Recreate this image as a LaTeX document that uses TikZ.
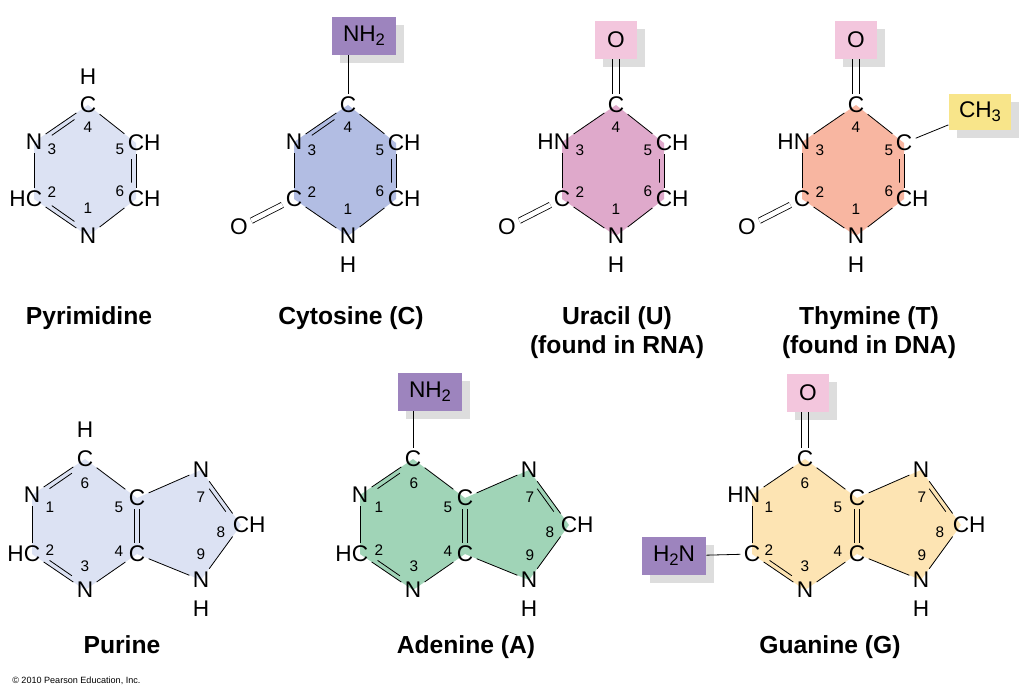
\documentclass[tikz,border=0pt]{standalone}
\usepackage{fontspec}
\setmainfont{Liberation Sans}
\usetikzlibrary{calc,shadows}

\definecolor{pyfill}{HTML}{DCE2F3}
\definecolor{cyfill}{HTML}{B2BDE3}
\definecolor{urfill}{HTML}{DFA9CB}
\definecolor{thfill}{HTML}{F8B6A1}
\definecolor{adfill}{HTML}{A0D4B7}
\definecolor{gufill}{HTML}{FDE4B3}
\definecolor{nhcol}{HTML}{9D84BE}
\definecolor{ocol}{HTML}{F3C6DD}
\definecolor{mecol}{HTML}{F8E58A}
\definecolor{shadowgray}{HTML}{DDDDDD}

\newcommand\afont{\fontsize{17}{20}\selectfont}
\newcommand\nfont{\fontsize{11.5}{13}\selectfont}
\newcommand\tfont{\fontsize{18.5}{22}\selectfont\bfseries}
\newcommand\cfont{\fontsize{6.8}{8}\selectfont}
\newcommand\lowsub[1]{\raisebox{-3pt}{\fontsize{12.5}{13}\selectfont #1}}

% ring double bond: full line plus shorter inner line toward the ring centre
\newcommand\rdb[3]{%
  \draw[bond] (#1) -- (#2);
  \draw[bond] ($(#1)!0.27!(#2)!3.5pt!(#3)$) -- ($(#2)!0.27!(#1)!3.5pt!(#3)$);}

\newcommand\topring[1]{%
  \coordinate (#1T) at (0,-65);
  \coordinate (#1UL) at (-54,-28);
  \coordinate (#1LL) at (-54,29);
  \coordinate (#1B) at (0,66);
  \coordinate (#1LR) at (48,29);
  \coordinate (#1UR) at (48,-27);
  \coordinate (#1ctr) at (-2,0);}

\newcommand\botring[1]{%
  \coordinate (#1T) at (0,-66);
  \coordinate (#1UL) at (-53,-30);
  \coordinate (#1LL) at (-53,29);
  \coordinate (#1B) at (0,65);
  \coordinate (#1LR) at (52,29);
  \coordinate (#1UR) at (52,-27);
  \coordinate (#1N7) at (116,-55);
  \coordinate (#1C8) at (156,0);
  \coordinate (#1N9) at (116,55);
  \coordinate (#1ctr) at (0,0);
  \coordinate (#1fctr) at (100,0);}

\tikzset{
  atom/.style={font=\afont, inner sep=2.6pt, outer sep=0pt},
  hyd/.style={font=\afont, inner sep=0pt, outer sep=0pt},
  hr/.style={hyd, anchor=base west, xshift=-2.6pt},
  hl/.style={hyd, anchor=base east, xshift=2.6pt},
  num/.style={font=\nfont, inner sep=0pt},
  title/.style={font=\tfont, inner sep=0pt, anchor=base},
  bond/.style={line width=0.6pt, black},
  grp/.style={font=\afont, inner sep=0pt, minimum height=28pt,
    drop shadow={shadow xshift=6pt, shadow yshift=-6pt, fill=shadowgray, opacity=1}},
}

\begin{document}
\begin{tikzpicture}[x=0.75pt, y=-0.75pt]
\useasboundingbox[fill=white] (0,0) rectangle (1024,695);

% ===================== Pyrimidine =====================
\begin{scope}[shift={(88,170)}]
  \topring{py}
  \fill[pyfill] (pyT) -- (pyUR) -- (pyLR) -- (pyB) -- (pyLL) -- (pyUL) -- cycle;
  \node[atom] (pyc4) at (pyT) {C};
  \node[atom] (pyn3) at (pyUL) {N};
  \node[atom] (pyc2) at (pyLL) {C};
  \node[atom] (pyn1) at (pyB) {N};
  \node[atom] (pyc6) at (pyLR) {C};
  \node[atom] (pyc5) at (pyUR) {C};
  \node[hyd] (pyh4) at (0,-93) {H};
  \node[hl] (pyh2) at (pyc2.base west) {H};
  \node[hr] (pyh5) at (pyc5.base east) {H};
  \node[hr] (pyh6) at (pyc6.base east) {H};
  \node[num] (py1) at (0,38) {1};
  \node[num] (py2) at (-36,22) {2};
  \node[num] (py3) at (-36,-21) {3};
  \node[num] (py4) at (0,-43) {4};
  \node[num] (py5) at (32,-21) {5};
  \node[num] (py6) at (32,21) {6};
  \rdb{pyn3}{pyc4}{pyctr}
  \draw[bond] (pyc4) -- (pyc5);
  \rdb{pyc5}{pyc6}{pyctr}
  \draw[bond] (pyc6) -- (pyn1);
  \rdb{pyn1}{pyc2}{pyctr}
  \draw[bond] (pyc2) -- (pyn3);
\end{scope}

% ===================== Cytosine =====================
\begin{scope}[shift={(348,170)}]
  \topring{cy}
  \fill[cyfill] (cyT) -- (cyUR) -- (cyLR) -- (cyB) -- (cyLL) -- (cyUL) -- cycle;
  \node[atom] (cyc4) at (cyT) {C};
  \node[atom] (cyn3) at (cyUL) {N};
  \node[atom] (cyc2) at (cyLL) {C};
  \node[atom] (cyn1) at (cyB) {N};
  \node[atom] (cyc6) at (cyLR) {C};
  \node[atom] (cyc5) at (cyUR) {C};
  \node[hr] (cyh5) at (cyc5.base east) {H};
  \node[hr] (cyh6) at (cyc6.base east) {H};
  \node[hyd] (cyh1) at (0,95) {H};
  \node[atom] (cyo) at (-109,57) {O};
  \node[grp, fill=nhcol, minimum width=48pt] (cynh) at (16,-134) {NH\lowsub{2}};
  \node[num] (cy1) at (0,39) {1};
  \node[num] (cy2) at (-36,22) {2};
  \node[num] (cy3) at (-36,-20) {3};
  \node[num] (cy4) at (0,-43) {4};
  \node[num] (cy5) at (32,-20) {5};
  \node[num] (cy6) at (32,21) {6};
  \rdb{cyn3}{cyc4}{cyctr}
  \draw[bond] (cyc4) -- (cyc5);
  \rdb{cyc5}{cyc6}{cyctr}
  \draw[bond] (cyc6) -- (cyn1);
  \draw[bond] (cyn1) -- (cyc2);
  \draw[bond] (cyc2) -- (cyn3);
  \draw[bond, double, double distance=3.5pt] (cyc2) -- (cyo);
  \draw[bond] (cyc4) -- (cyc4 |- cynh.south);
\end{scope}

% ===================== Uracil =====================
\begin{scope}[shift={(616,170)}]
  \topring{ur}
  \fill[urfill] (urT) -- (urUR) -- (urLR) -- (urB) -- (urLL) -- (urUL) -- cycle;
  \node[atom] (urc4) at (urT) {C};
  \node[atom] (urn3) at (urUL) {N};
  \node[atom] (urc2) at (urLL) {C};
  \node[atom] (urn1) at (urB) {N};
  \node[atom] (urc6) at (urLR) {C};
  \node[atom] (urc5) at (urUR) {C};
  \node[hl] (urh3) at (urn3.base west) {H};
  \node[hr] (urh5) at (urc5.base east) {H};
  \node[hr] (urh6) at (urc6.base east) {H};
  \node[hyd] (urh1) at (0,95) {H};
  \node[atom] (uro2) at (-109,57) {O};
  \node[grp, fill=ocol, minimum width=31pt] (uro4) at (0,-130) {O};
  \node[num] (ur1) at (0,39) {1};
  \node[num] (ur2) at (-36,22) {2};
  \node[num] (ur3) at (-36,-20) {3};
  \node[num] (ur4) at (0,-43) {4};
  \node[num] (ur5) at (32,-20) {5};
  \node[num] (ur6) at (32,21) {6};
  \draw[bond] (urn3) -- (urc4);
  \draw[bond] (urc4) -- (urc5);
  \rdb{urc5}{urc6}{urctr}
  \draw[bond] (urc6) -- (urn1);
  \draw[bond] (urn1) -- (urc2);
  \draw[bond] (urc2) -- (urn3);
  \draw[bond, double, double distance=3.5pt] (urc2) -- (uro2);
  \draw[bond, transform canvas={xshift=2.5pt}] (urc4) -- (urc4 |- uro4.south);
  \draw[bond, transform canvas={xshift=-2.5pt}] (urc4) -- (urc4 |- uro4.south);
\end{scope}

% ===================== Thymine =====================
\begin{scope}[shift={(856,170)}]
  \topring{th}
  \fill[thfill] (thT) -- (thUR) -- (thLR) -- (thB) -- (thLL) -- (thUL) -- cycle;
  \node[atom] (thc4) at (thT) {C};
  \node[atom] (thn3) at (thUL) {N};
  \node[atom] (thc2) at (thLL) {C};
  \node[atom] (thn1) at (thB) {N};
  \node[atom] (thc6) at (thLR) {C};
  \node[atom] (thc5) at (thUR) {C};
  \node[hl] (thh3) at (thn3.base west) {H};
  \node[hr] (thh6) at (thc6.base east) {H};
  \node[hyd] (thh1) at (0,95) {H};
  \node[atom] (tho2) at (-109,57) {O};
  \node[grp, fill=ocol, minimum width=31pt] (tho4) at (0,-130) {O};
  \node[grp, fill=mecol, minimum width=47pt, minimum height=27pt] (thme) at (124,-58) {CH\lowsub{3}};
  \node[num] (th1) at (0,39) {1};
  \node[num] (th2) at (-36,22) {2};
  \node[num] (th3) at (-36,-20) {3};
  \node[num] (th4) at (0,-43) {4};
  \node[num] (th5) at (33,-20) {5};
  \node[num] (th6) at (33,21) {6};
  \draw[bond] (thn3) -- (thc4);
  \draw[bond] (thc4) -- (thc5);
  \rdb{thc5}{thc6}{thctr}
  \draw[bond] (thc6) -- (thn1);
  \draw[bond] (thn1) -- (thc2);
  \draw[bond] (thc2) -- (thn3);
  \draw[bond, double, double distance=3.5pt] (thc2) -- (tho2);
  \draw[bond, transform canvas={xshift=2.5pt}] (thc4) -- (thc4 |- tho4.south);
  \draw[bond, transform canvas={xshift=-2.5pt}] (thc4) -- (thc4 |- tho4.south);
  \draw[bond] (thc5) -- (thme);
\end{scope}

% ===================== Purine =====================
\begin{scope}[shift={(85,525)}]
  \botring{pu}
  \fill[pyfill] (puT) -- (puUR) -- (puN7) -- (puC8) -- (puN9) -- (puLR) -- (puB) -- (puLL) -- (puUL) -- cycle;
  \node[atom] (puc6) at (puT) {C};
  \node[atom] (pun1) at (puUL) {N};
  \node[atom] (puc2) at (puLL) {C};
  \node[atom] (pun3) at (puB) {N};
  \node[atom] (puc4) at (puLR) {C};
  \node[atom] (puc5) at (puUR) {C};
  \node[atom] (pun7) at (puN7) {N};
  \node[atom] (puc8) at (puC8) {C};
  \node[atom] (pun9) at (puN9) {N};
  \node[hyd] (puh6) at (0,-95) {H};
  \node[hl] (puh2) at (puc2.base west) {H};
  \node[hr] (puh8) at (puc8.base east) {H};
  \node[hyd] (puh9) at (116,84) {H};
  \node[num] (pu1) at (-35,-18) {1};
  \node[num] (pu2) at (-35,25) {2};
  \node[num] (pu3) at (0,41) {3};
  \node[num] (pu4) at (34,26) {4};
  \node[num] (pu5) at (34,-18) {5};
  \node[num] (pu6) at (0,-42) {6};
  \node[num] (pu7) at (116,-28) {7};
  \node[num] (pu8) at (136,7) {8};
  \node[num] (pu9) at (116,29) {9};
  \rdb{pun1}{puc6}{puctr}
  \draw[bond] (puc6) -- (puc5);
  \draw[bond, transform canvas={xshift=2pt}] (puc5) -- (puc4);
  \draw[bond, transform canvas={xshift=-2pt}] (puc5) -- (puc4);
  \draw[bond] (puc4) -- (pun3);
  \rdb{pun3}{puc2}{puctr}
  \draw[bond] (puc2) -- (pun1);
  \draw[bond] (puc5) -- (pun7);
  \rdb{pun7}{puc8}{pufctr}
  \draw[bond] (puc8) -- (pun9);
  \draw[bond] (pun9) -- (puc4);
\end{scope}

% ===================== Adenine =====================
\begin{scope}[shift={(413,525)}]
  \botring{ad}
  \fill[adfill] (adT) -- (adUR) -- (adN7) -- (adC8) -- (adN9) -- (adLR) -- (adB) -- (adLL) -- (adUL) -- cycle;
  \node[atom] (adc6) at (adT) {C};
  \node[atom] (adn1) at (adUL) {N};
  \node[atom] (adc2) at (adLL) {C};
  \node[atom] (adn3) at (adB) {N};
  \node[atom] (adc4) at (adLR) {C};
  \node[atom] (adc5) at (adUR) {C};
  \node[atom] (adn7) at (adN7) {N};
  \node[atom] (adc8) at (adC8) {C};
  \node[atom] (adn9) at (adN9) {N};
  \node[hl] (adh2) at (adc2.base west) {H};
  \node[hr] (adh8) at (adc8.base east) {H};
  \node[hyd] (adh9) at (116,84) {H};
  \node[grp, fill=nhcol, minimum width=48pt] (adnh) at (17,-133) {NH\lowsub{2}};
  \node[num] (ad1) at (-34,-18) {1};
  \node[num] (ad2) at (-34,25) {2};
  \node[num] (ad3) at (1,41) {3};
  \node[num] (ad4) at (35,26) {4};
  \node[num] (ad5) at (35,-18) {5};
  \node[num] (ad6) at (1,-42) {6};
  \node[num] (ad7) at (117,-28) {7};
  \node[num] (ad8) at (137,7) {8};
  \node[num] (ad9) at (117,30) {9};
  \rdb{adn1}{adc6}{adctr}
  \draw[bond] (adc6) -- (adc5);
  \draw[bond, transform canvas={xshift=2pt}] (adc5) -- (adc4);
  \draw[bond, transform canvas={xshift=-2pt}] (adc5) -- (adc4);
  \draw[bond] (adc4) -- (adn3);
  \rdb{adn3}{adc2}{adctr}
  \draw[bond] (adc2) -- (adn1);
  \draw[bond] (adc5) -- (adn7);
  \rdb{adn7}{adc8}{adfctr}
  \draw[bond] (adc8) -- (adn9);
  \draw[bond] (adn9) -- (adc4);
  \draw[bond] (adc6) -- (adc6 |- adnh.south);
\end{scope}

% ===================== Guanine =====================
\begin{scope}[shift={(805,525)}]
  \botring{gu}
  \fill[gufill] (guT) -- (guUR) -- (guN7) -- (guC8) -- (guN9) -- (guLR) -- (guB) -- (guLL) -- (guUL) -- cycle;
  \node[atom] (guc6) at (guT) {C};
  \node[atom] (gun1) at (guUL) {N};
  \node[atom] (guc2) at (guLL) {C};
  \node[atom] (gun3) at (guB) {N};
  \node[atom] (guc4) at (guLR) {C};
  \node[atom] (guc5) at (guUR) {C};
  \node[atom] (gun7) at (guN7) {N};
  \node[atom] (guc8) at (guC8) {C};
  \node[atom] (gun9) at (guN9) {N};
  \node[hl] (guh1) at (gun1.base west) {H};
  \node[hr] (guh8) at (guc8.base east) {H};
  \node[hyd] (guh9) at (116,84) {H};
  \node[grp, fill=ocol, minimum width=31pt] (guo) at (3,-132) {O};
  \node[grp, fill=nhcol, minimum width=48pt] (gunh) at (-131,31) {H\lowsub{2}N};
  \node[num] (gu1) at (-36,-18) {1};
  \node[num] (gu2) at (-36,25) {2};
  \node[num] (gu3) at (0,41) {3};
  \node[num] (gu4) at (33,26) {4};
  \node[num] (gu5) at (33,-18) {5};
  \node[num] (gu6) at (0,-42) {6};
  \node[num] (gu7) at (117,-28) {7};
  \node[num] (gu8) at (135,7) {8};
  \node[num] (gu9) at (117,30) {9};
  \draw[bond] (gun1) -- (guc6);
  \draw[bond] (guc6) -- (guc5);
  \draw[bond, transform canvas={xshift=2pt}] (guc5) -- (guc4);
  \draw[bond, transform canvas={xshift=-2pt}] (guc5) -- (guc4);
  \draw[bond] (guc4) -- (gun3);
  \rdb{gun3}{guc2}{guctr}
  \draw[bond] (guc2) -- (gun1);
  \draw[bond] (guc5) -- (gun7);
  \rdb{gun7}{guc8}{gufctr}
  \draw[bond] (guc8) -- (gun9);
  \draw[bond] (gun9) -- (guc4);
  \draw[bond, transform canvas={xshift=2.5pt}] (guc6) -- (guc6 |- guo.south);
  \draw[bond, transform canvas={xshift=-2.5pt}] (guc6) -- (guc6 |- guo.south);
  \draw[bond] (guc2) -- (gunh);
\end{scope}

% ===================== Titles =====================
\node[title] (tpy) at (89,324) {Pyrimidine};
\node[title] (tcy) at (351,324) {Cytosine (C)};
\node[title] (tur) at (617,324) {Uracil (U)};
\node[title] (tur2) at (617,353) {(found in RNA)};
\node[title] (tth) at (869,324) {Thymine (T)};
\node[title] (tth2) at (869,353) {(found in DNA)};
\node[title] (tpu) at (122,653) {Purine};
\node[title] (tad) at (466,653) {Adenine (A)};
\node[title] (tgu) at (830,653) {Guanine (G)};
\node[font=\cfont, anchor=base west, inner sep=0pt] (copy) at (12,683) {© 2010 Pearson Education, Inc.};
\end{tikzpicture}
\end{document}
